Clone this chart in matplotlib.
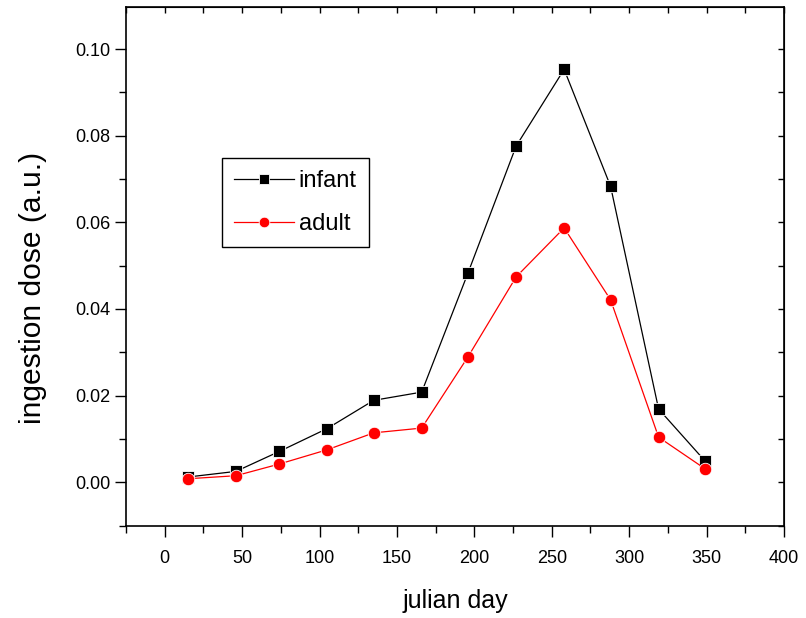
import matplotlib
matplotlib.use("Agg")
import matplotlib.pyplot as plt
from matplotlib.ticker import MultipleLocator

plt.rcParams['font.family'] = ['Liberation Sans', 'DejaVu Sans']

# mid-month julian days
days = [15, 46, 74, 105, 135, 166, 196, 227, 258, 288, 319, 349]
infant = [0.0012, 0.0025, 0.0071, 0.0124, 0.0189, 0.0208, 0.0484, 0.0776, 0.0953, 0.0683, 0.0169, 0.0049]
adult = [0.0008, 0.0015, 0.0042, 0.0075, 0.0114, 0.0125, 0.0290, 0.0474, 0.0587, 0.0421, 0.0104, 0.0031]


def main():
    fig = plt.figure(figsize=(8.06, 6.18), dpi=100)
    ax = fig.add_axes([0.1563, 0.1489, 0.8164, 0.8398])

    ax.plot(days, infant, color='black', lw=0.9, marker='s', ms=9,
            mec='white', mew=0.6, label='infant')
    ax.plot(days, adult, color='red', lw=0.9, marker='o', ms=9,
            mec='white', mew=0.6, label='adult')

    ax.set_xlim(-25, 400)
    ax.set_ylim(-0.0101, 0.1097)

    ax.xaxis.set_major_locator(MultipleLocator(50))
    ax.xaxis.set_minor_locator(MultipleLocator(25))
    ax.yaxis.set_major_locator(MultipleLocator(0.02))
    ax.yaxis.set_minor_locator(MultipleLocator(0.01))
    ax.yaxis.set_major_formatter(lambda v, p: f"{v:.2f}")

    ax.tick_params(which='both', direction='out', top=False, right=False,
                   width=1, labelsize=13)
    ax.tick_params(which='major', length=8)
    ax.tick_params(which='minor', length=5)
    ax.tick_params(axis='x', pad=9)

    # inward ticks without labels on the top and right sides
    secx = ax.secondary_xaxis('top')
    secx.xaxis.set_major_locator(MultipleLocator(25))
    secx.tick_params(direction='in', length=4, width=1, labeltop=False)
    secy = ax.secondary_yaxis('right')
    secy.yaxis.set_major_locator(MultipleLocator(0.01))
    secy.tick_params(direction='in', length=4, width=1, labelright=False)

    for s in ax.spines.values():
        s.set_linewidth(1.2)

    ax.set_xlabel('julian day', fontsize=18, labelpad=16)
    ax.set_ylabel('ingestion dose (a.u.)', fontsize=21.6)
    ax.yaxis.set_label_coords(-0.12, 0.4586)

    leg = ax.legend(loc='upper left', bbox_to_anchor=(0.146, 0.709),
                    borderaxespad=0, fontsize=17, handlelength=2.55,
                    handletextpad=0.2, fancybox=False, edgecolor='black',
                    framealpha=1, borderpad=0.5, labelspacing=0.9,
                    markerscale=0.85)
    leg.get_frame().set_linewidth(1.0)

    fig.savefig('out.png', dpi=100)


if __name__ == "__main__":
    main()
